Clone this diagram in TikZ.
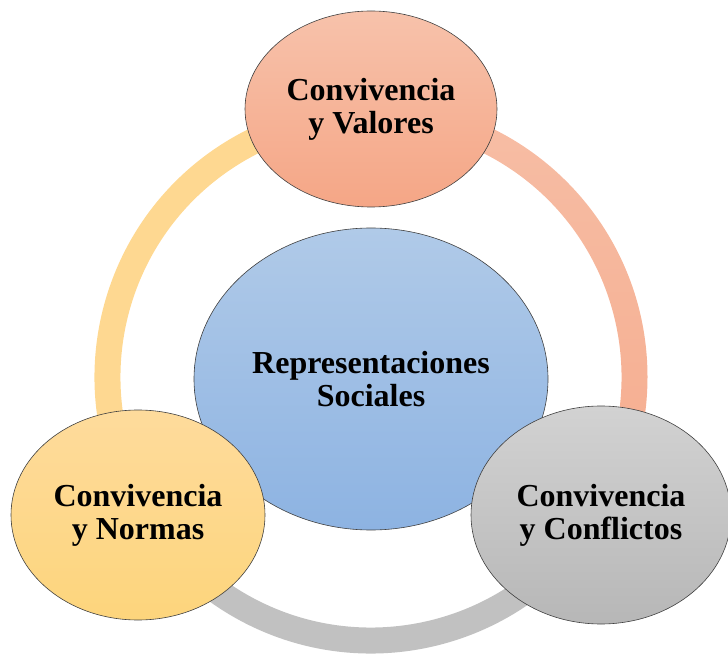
\documentclass[tikz,border=0pt]{standalone}
\usepackage{fontspec}
\setmainfont{Liberation Serif}
\usetikzlibrary{shapes.geometric}
\definecolor{salmonA}{HTML}{F7C2AB}
\definecolor{salmonB}{HTML}{F5A686}
\definecolor{yelA}{HTML}{FEDB9C}
\definecolor{yelB}{HTML}{FDD57C}
\definecolor{grayA}{HTML}{D2D2D2}
\definecolor{grayB}{HTML}{B7B7B7}
\definecolor{blueA}{HTML}{B0CAE8}
\definecolor{blueB}{HTML}{8DB3E2}
\definecolor{ringS}{HTML}{F6B79C}
\definecolor{ringY}{HTML}{FED891}
\definecolor{ringG}{HTML}{C1C1C1}
\definecolor{edge}{HTML}{404040}
\tikzset{
  bubble/.style={ellipse, draw=edge, line width=0.6pt, inner sep=0pt, align=center,
    font=\fontsize{32}{33}\selectfont\bfseries},
}
\begin{document}
\begin{tikzpicture}[x=1pt,y=1pt]
\useasboundingbox (0,0) rectangle (728,654);
\coordinate (C) at (371,277);
% ring segments
\begin{scope}
  \clip ([shift={(90:276.5)}]C) arc[start angle=90,end angle=-30,radius=276.5]
     -- ([shift={(-30:250.5)}]C) arc[start angle=-30,end angle=90,radius=250.5] -- cycle;
  \shade[top color=salmonA, bottom color=salmonB] (371,0) rectangle (728,654);
\end{scope}
\draw[ringG, line width=26pt] ([shift={(-30:263.5)}]C) arc[start angle=-30,end angle=-150,radius=263.5];
\draw[ringY, line width=26pt] ([shift={(210:263.5)}]C) arc[start angle=210,end angle=90,radius=263.5];
% ellipses
\node[bubble, minimum width=354pt, minimum height=302pt, top color=blueA, bottom color=blueB]
  (rs) at (371,275) {Representaciones\\Sociales};
\node[bubble, minimum width=252pt, minimum height=196pt, top color=salmonA, bottom color=salmonB]
  (val) at (371,545) {Convivencia\\y Valores};
\node[bubble, minimum width=254pt, minimum height=210pt, top color=yelA, bottom color=yelB]
  (nor) at (138,139) {Convivencia\\y Normas};
\node[bubble, minimum width=260pt, minimum height=218pt, top color=grayA, bottom color=grayB]
  (con) at (601,139) {Convivencia\\y Conflictos};
\end{tikzpicture}
\end{document}
